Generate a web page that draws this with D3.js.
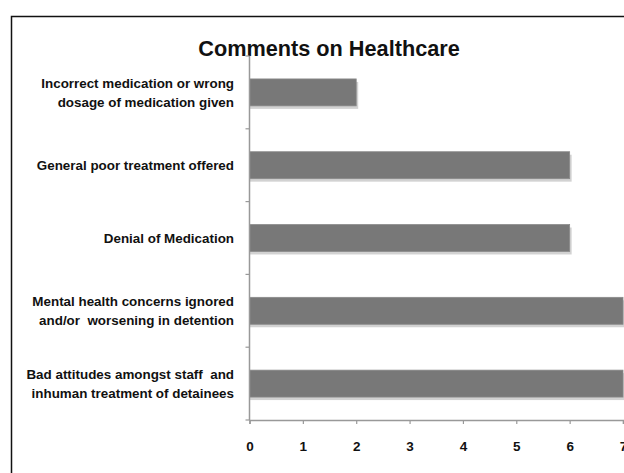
<!DOCTYPE html>
<html><head><meta charset="utf-8">
<script src="https://cdn.jsdelivr.net/npm/d3@7"></script>
<style>body{margin:0;background:#fff}svg{display:block}</style>
</head><body>
<svg id="c" width="624" height="473"></svg>
<script>
const categories = [
  ["Incorrect medication or wrong", "dosage of medication given"],
  ["General poor treatment offered"],
  ["Denial of Medication"],
  ["Mental health concerns ignored", "and/or  worsening in detention"],
  ["Bad attitudes amongst staff  and", "inhuman treatment of detainees"]
];
const values = [2, 6, 6, 7, 7];
const xTicks = [0, 1, 2, 3, 4, 5, 6, 7];
const title = "Comments on Healthcare";

const svg = d3.select("#c");
const font = "'Liberation Sans', Arial, sans-serif";
svg.append("rect").attr("x", 11.5).attr("y", 16.5).attr("width", 700).attr("height", 600)
  .attr("fill", "#fff").attr("stroke", "#111").attr("stroke-width", 1.5);

const x = d3.scaleLinear().domain([0, 7]).range([249.5, 623]);
const y = d3.scaleBand().domain(d3.range(categories.length)).range([56, 420]).paddingInner(0.63).paddingOuter(0.315);

svg.append("text").attr("x", 329).attr("y", 56).attr("text-anchor", "middle")
  .attr("font-family", font).attr("font-weight", "bold").attr("font-size", 21.7).attr("fill", "#111").text(title);

// shadows
svg.append("g").selectAll("rect").data(values).join("rect")
  .attr("x", x(0)).attr("y", (d, i) => y(i) + 3).attr("width", d => x(d) - x(0) + 2).attr("height", y.bandwidth())
  .attr("fill", "#d2d2d2");
svg.append("g").selectAll("rect").data(values).join("rect")
  .attr("x", x(0)).attr("y", (d, i) => y(i)).attr("width", d => x(d) - x(0)).attr("height", y.bandwidth())
  .attr("fill", "#787878").attr("stroke", "#8a8a8a").attr("stroke-width", 0.8);

// y axis
const step = y.step();
svg.append("line").attr("x1", x(0)).attr("x2", x(0)).attr("y1", 56).attr("y2", 420).attr("stroke", "#999").attr("stroke-width", 1.5);
svg.append("g").selectAll("line").data(d3.range(categories.length + 1)).join("line")
  .attr("x1", x(0) - 4).attr("x2", x(0)).attr("y1", i => 56 + i * step).attr("y2", i => 56 + i * step)
  .attr("stroke", "#999").attr("stroke-width", 1.2);

// x axis
const xa = svg.append("g").attr("transform", "translate(0,420)")
  .call(d3.axisBottom(x).tickValues(xTicks).tickSize(4).tickPadding(17).tickFormat(d3.format("d")));
xa.select(".domain").attr("stroke", "#999").attr("stroke-width", 1.5);
xa.selectAll(".tick line").attr("stroke", "#999").attr("stroke-width", 1.2);
xa.selectAll("text").attr("font-family", font).attr("font-weight", "bold").attr("font-size", 13.5).attr("fill", "#111");

// category labels
const lg = svg.append("g");
categories.forEach((lines, i) => {
  const cy = y(i) + y.bandwidth() / 2;
  const lh = 19;
  const t = lg.append("text").attr("text-anchor", "end").attr("font-family", font)
    .attr("font-weight", "bold").attr("font-size", 13.4).attr("fill", "#111").style("white-space", "pre");
  lines.forEach((s, j) => {
    t.append("tspan").attr("x", 234).attr("y", cy + 5 + (j - (lines.length - 1) / 2) * lh).text(s);
  });
});
</script>
</body></html>
